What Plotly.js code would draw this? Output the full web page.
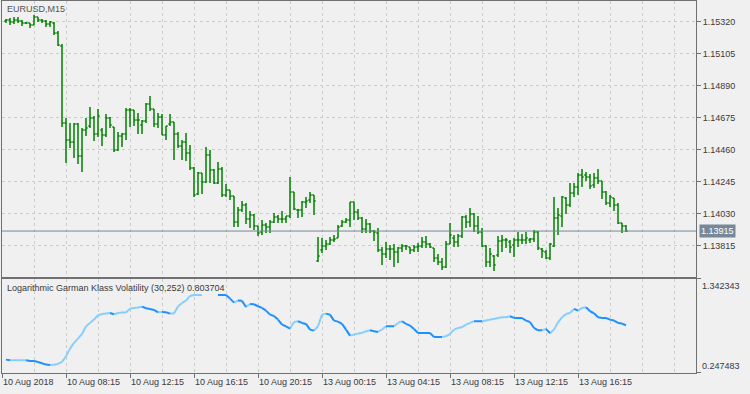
<!DOCTYPE html>
<html>
<head>
<meta charset="utf-8">
<script src="https://cdn.plot.ly/plotly-3.0.1.min.js"></script>
<style>
html,body{margin:0;padding:0;background:#f0f0f0;}
#chart{width:750px;height:394px;}
</style>
</head>
<body>
<div id="chart"></div>
<script>
// ---- data (EURUSD M15 bars) ----
var openP = [
1.15327,1.15333,1.15320,1.15333,1.15327,1.15313,1.15313,1.15300,1.15354,1.15333,
1.15327,1.15307,1.15313,1.15246,1.15159,1.14641,1.14527,1.14514,1.14635,1.14420,
1.14594,1.14621,1.14675,1.14567,1.14594,1.14561,1.14675,1.14614,1.14460,1.14554,
1.14567,1.14729,1.14729,1.14661,1.14628,1.14655,1.14769,1.14735,1.14635,1.14682,
1.14561,1.14635,1.14648,1.14567,1.14487,1.14514,1.14440,1.14339,1.14164,1.14305,
1.14245,1.14426,1.14325,1.14238,1.14332,1.14157,1.14191,1.14151,1.13976,1.14057,
1.14090,1.13996,1.14023,1.13949,1.13909,1.13956,1.13942,1.13976,1.14010,1.13996,
1.13996,1.14016,1.14178,1.14057,1.14057,1.14110,1.14124,1.14157,1.13714,1.13788,
1.13815,1.13828,1.13855,1.13868,1.13949,1.13976,1.13989,1.14110,1.14043,1.14003,
1.13929,1.13963,1.13916,1.13902,1.13788,1.13761,1.13795,1.13795,1.13774,1.13801,
1.13815,1.13808,1.13788,1.13808,1.13815,1.13842,1.13828,1.13801,1.13734,1.13707,
1.13674,1.13828,1.13868,1.13842,1.13882,1.14010,1.13976,1.14030,1.13949,1.13909,
1.13815,1.13707,1.13748,1.13754,1.13848,1.13855,1.13842,1.13821,1.13855,1.13855,
1.13855,1.13855,1.13862,1.13909,1.13795,1.13774,1.13734,1.13815,1.14003,1.14016,
1.14137,1.14090,1.14171,1.14211,1.14292,1.14292,1.14278,1.14225,1.14272,1.14252,
1.14178,1.14104,1.14137,1.14090,1.13969,1.13949];
var highP = [
1.15340,1.15347,1.15354,1.15354,1.15333,1.15320,1.15313,1.15367,1.15354,1.15340,
1.15333,1.15327,1.15320,1.15260,1.15172,1.14675,1.14641,1.14641,1.14641,1.14608,
1.14675,1.14749,1.14688,1.14735,1.14608,1.14702,1.14682,1.14614,1.14581,1.14574,
1.14742,1.14742,1.14729,1.14708,1.14661,1.14776,1.14823,1.14735,1.14708,1.14702,
1.14621,1.14702,1.14648,1.14581,1.14527,1.14574,1.14493,1.14346,1.14312,1.14305,
1.14480,1.14460,1.14332,1.14379,1.14346,1.14231,1.14191,1.14151,1.14077,1.14117,
1.14104,1.14050,1.14030,1.13949,1.13989,1.13969,1.13989,1.14036,1.14023,1.14050,
1.14016,1.14278,1.14178,1.14063,1.14117,1.14144,1.14178,1.14157,1.13875,1.13868,
1.13855,1.13875,1.13889,1.13956,1.13989,1.14003,1.14110,1.14110,1.14063,1.14010,
1.13996,1.13969,1.13922,1.13936,1.13808,1.13842,1.13821,1.13828,1.13808,1.13828,
1.13821,1.13808,1.13821,1.13835,1.13875,1.13882,1.13835,1.13801,1.13761,1.13734,
1.13848,1.13969,1.13889,1.13895,1.14016,1.14023,1.14070,1.14036,1.14016,1.13936,
1.13821,1.13801,1.13754,1.13882,1.13889,1.13868,1.13855,1.13868,1.13909,1.13895,
1.13909,1.13868,1.13922,1.13916,1.13801,1.13788,1.13835,1.14144,1.14070,1.14151,
1.14144,1.14238,1.14238,1.14305,1.14332,1.14312,1.14299,1.14305,1.14332,1.14252,
1.14184,1.14157,1.14137,1.14104,1.13969,1.13956];
var lowP = [
1.15313,1.15300,1.15307,1.15313,1.15293,1.15307,1.15280,1.15300,1.15320,1.15313,
1.15286,1.15286,1.15233,1.15159,1.14614,1.14372,1.14473,1.14406,1.14366,1.14312,
1.14554,1.14608,1.14520,1.14547,1.14487,1.14547,1.14608,1.14446,1.14453,1.14480,
1.14527,1.14614,1.14621,1.14567,1.14567,1.14641,1.14722,1.14614,1.14608,1.14561,
1.14527,1.14621,1.14393,1.14473,1.14393,1.14386,1.14325,1.14144,1.14157,1.14164,
1.14238,1.14238,1.14231,1.14231,1.14144,1.14144,1.14124,1.13942,1.13942,1.14043,
1.13963,1.13936,1.13922,1.13882,1.13889,1.13902,1.13902,1.13969,1.13969,1.13969,
1.13969,1.14003,1.14057,1.14003,1.14010,1.14070,1.14104,1.14023,1.13707,1.13768,
1.13788,1.13821,1.13842,1.13868,1.13942,1.13969,1.13942,1.13989,1.13989,1.13902,
1.13902,1.13902,1.13848,1.13774,1.13687,1.13734,1.13721,1.13674,1.13700,1.13774,
1.13788,1.13761,1.13774,1.13774,1.13801,1.13801,1.13801,1.13707,1.13687,1.13653,
1.13667,1.13828,1.13808,1.13808,1.13868,1.13936,1.13942,1.13909,1.13895,1.13808,
1.13674,1.13674,1.13647,1.13741,1.13774,1.13801,1.13768,1.13741,1.13808,1.13828,
1.13828,1.13835,1.13842,1.13788,1.13734,1.13727,1.13721,1.13808,1.13889,1.13942,
1.14030,1.14077,1.14144,1.14157,1.14211,1.14252,1.14198,1.14204,1.14231,1.14131,
1.14090,1.14077,1.14050,1.13963,1.13902,1.13909];
var closeP = [
1.15333,1.15320,1.15333,1.15327,1.15313,1.15313,1.15300,1.15354,1.15333,1.15327,
1.15307,1.15320,1.15246,1.15165,1.14641,1.14527,1.14514,1.14635,1.14420,1.14594,
1.14608,1.14675,1.14567,1.14688,1.14561,1.14675,1.14628,1.14460,1.14554,1.14567,
1.14729,1.14729,1.14661,1.14661,1.14655,1.14769,1.14735,1.14635,1.14682,1.14561,
1.14621,1.14648,1.14567,1.14487,1.14514,1.14440,1.14339,1.14157,1.14305,1.14245,
1.14426,1.14325,1.14238,1.14332,1.14157,1.14191,1.14151,1.13976,1.14057,1.14090,
1.13996,1.14023,1.13949,1.13902,1.13956,1.13942,1.13976,1.14010,1.13996,1.13996,
1.14016,1.14178,1.14063,1.14057,1.14110,1.14117,1.14157,1.14117,1.13748,1.13815,
1.13828,1.13855,1.13862,1.13942,1.13976,1.13989,1.14110,1.14043,1.14003,1.13929,
1.13963,1.13916,1.13909,1.13788,1.13761,1.13795,1.13795,1.13774,1.13801,1.13815,
1.13815,1.13788,1.13808,1.13815,1.13842,1.13828,1.13808,1.13734,1.13707,1.13674,
1.13828,1.13889,1.13842,1.13882,1.14010,1.13976,1.14030,1.13949,1.13909,1.13815,
1.13707,1.13761,1.13687,1.13848,1.13855,1.13855,1.13808,1.13855,1.13855,1.13855,
1.13868,1.13862,1.13909,1.13801,1.13781,1.13734,1.13828,1.14003,1.14023,1.14144,
1.14090,1.14171,1.14211,1.14292,1.14278,1.14278,1.14218,1.14272,1.14252,1.14178,
1.14104,1.14144,1.14090,1.13969,1.13949,1.13915];

// Logarithmic Garman Klass Volatility (30,252)
var volatility = [
0.4034,0.3950,0.3953,0.3957,0.3960,0.3962,0.3880,0.3878,0.3763,0.3607,
0.3452,0.3413,0.3430,0.3530,0.3763,0.4423,0.5316,0.5976,0.6481,0.7024,
0.7917,0.8306,0.8694,0.9199,0.9354,0.9393,0.9471,0.9315,0.9471,0.9509,
0.9512,0.9975,1.0053,1.0092,1.0208,1.0014,0.9937,0.9820,0.9548,0.9587,
0.9548,0.9393,0.9400,1.0208,1.0635,1.0907,1.1451,1.1567,1.1570,1.1572,
1.1572,1.1572,1.1572,1.1572,1.1565,1.1560,1.1140,1.0674,1.0907,1.0880,
1.0170,1.0519,1.0480,1.0247,1.0053,0.9742,0.9276,0.9121,0.8694,0.8112,
0.7917,0.7646,0.8422,0.8500,0.8306,0.8189,0.7529,0.7413,0.7917,0.9276,
0.9393,0.9276,0.8578,0.8461,0.8189,0.7529,0.6830,0.6947,0.7063,0.7141,
0.7335,0.7452,0.7335,0.7257,0.7529,0.7917,0.7915,0.7912,0.8306,0.8500,
0.8189,0.7995,0.7607,0.7141,0.7138,0.7135,0.7130,0.6675,0.6672,0.6670,
0.6753,0.7024,0.7529,0.7723,0.7801,0.8112,0.8306,0.8500,0.8498,0.8495,
0.8578,0.8694,0.8772,0.8888,0.8966,0.8970,0.9082,0.8888,0.8885,0.8880,
0.8578,0.8422,0.7723,0.7452,0.7450,0.7607,0.7102,0.7529,0.8383,0.8966,
0.9354,0.9471,0.9937,0.9742,1.0053,1.0131,0.9665,0.9432,0.8966,0.8888,
0.8880,0.8694,0.8578,0.8306,0.8228,0.803704];

var priceTicks = [1.15320,1.15105,1.14890,1.14675,1.14460,1.14245,1.14030,1.13815];
var lastPrice = 1.13915;
var volMax = 1.342343, volMin = 0.247483;
var timeTickBars = [-1,15,31,47,63,79,95,111,127,143];
var timeTickText = ["10 Aug 2018","10 Aug 08:15","10 Aug 12:15","10 Aug 16:15","10 Aug 20:15",
                    "13 Aug 00:15","13 Aug 04:15","13 Aug 08:15","13 Aug 12:15","13 Aug 16:15"];

// ---- build ----
var idx = openP.map(function(_, i){ return i; });

var upX = [], upY = [], dnX = [], dnY = [];
for (var i = 1; i < volatility.length; i++) {
  var a = volatility[i-1], b = volatility[i];
  if (b > a) { upX.push(i-1, i, null); upY.push(a, b, null); }
  else if (b < a) { dnX.push(i-1, i, null); dnY.push(a, b, null); }
}

var GREEN = '#008000', FRAME = '#707070', GRID = '#cccccc', TXT = '#3a3a3a';
var FONT = 'Liberation Sans, Arial, sans-serif';

var traces = [
  {type:'ohlc', x:idx, open:openP, high:highP, low:lowP, close:closeP,
   xaxis:'x', yaxis:'y', tickwidth:0.42, hoverinfo:'skip',
   increasing:{line:{color:GREEN, width:1.5}}, decreasing:{line:{color:GREEN, width:1.5}}},
  {type:'scatter', mode:'lines', x:upX, y:upY, xaxis:'x2', yaxis:'y2', connectgaps:false,
   line:{color:'#87cefa', width:2}, hoverinfo:'skip'},
  {type:'scatter', mode:'lines', x:dnX, y:dnY, xaxis:'x2', yaxis:'y2', connectgaps:false,
   line:{color:'#1e90ff', width:2}, hoverinfo:'skip'}
];

var gridCommon = {showgrid:true, gridcolor:GRID, griddash:'3px,3px', gridwidth:1,
                  showline:true, mirror:true, linecolor:FRAME, linewidth:1, zeroline:false, fixedrange:true};

var layout = {
  width:750, height:394,
  paper_bgcolor:'#f0f0f0', plot_bgcolor:'#f0f0f0',
  margin:{l:2, r:54, t:1, b:21},
  showlegend:false,
  font:{family:FONT, size:9, color:TXT},
  xaxis: Object.assign({}, gridCommon, {
    domain:[0,1], anchor:'y', range:[-1,172.5], type:'linear',
    tickvals:timeTickBars, showticklabels:false, ticks:'',
    minor:{tick0:7, dtick:8, showgrid:true, gridcolor:GRID, griddash:'3px,3px', ticks:''},
    rangeslider:{visible:false}
  }),
  yaxis: Object.assign({}, gridCommon, {
    domain:[0.258,1], anchor:'x', side:'right', range:[1.13606,1.15461],
    tickvals:priceTicks, tickformat:'.5f', ticks:'outside', ticklen:4, tickcolor:FRAME
  }),
  xaxis2: Object.assign({}, gridCommon, {
    domain:[0,1], anchor:'y2', range:[-1,172.5], type:'linear',
    tickvals:timeTickBars, ticktext:timeTickText, ticks:'outside', ticklen:4, tickcolor:FRAME,
    ticklabelposition:'outside right',
    minor:{tick0:7, dtick:8, showgrid:true, gridcolor:GRID, griddash:'3px,3px', ticks:''}
  }),
  yaxis2: Object.assign({}, gridCommon, {
    domain:[0,0.2527], anchor:'x2', side:'right', range:[volMin, volMax],
    tickvals:[volMin, volMax], ticktext:['',''], ticks:'outside', ticklen:4, tickcolor:FRAME,
    showgrid:false
  }),
  shapes:[
    {type:'line', xref:'paper', x0:0, x1:1, yref:'y', y0:lastPrice, y1:lastPrice,
     line:{color:'#778899', width:1}}
  ],
  annotations:[
    {xref:'paper', yref:'paper', x:0, y:1, xanchor:'left', yanchor:'top', xshift:3, yshift:-1,
     text:'EURUSD,M15', showarrow:false, font:{family:FONT, size:9, color:'#555555'}},
    {xref:'paper', yref:'paper', x:0, y:0.2527, xanchor:'left', yanchor:'top', xshift:3, yshift:-2,
     text:'Logarithmic Garman Klass Volatility (30,252) 0.803704', showarrow:false,
     font:{family:FONT, size:9, color:'#3a3a3a'}},
    {xref:'paper', yref:'y', x:1, y:lastPrice, xanchor:'left', yanchor:'middle', xshift:3,
     text:lastPrice.toFixed(5), showarrow:false, bgcolor:'#778899', borderpad:1,
     font:{family:FONT, size:9, color:'#ffffff'}},
    {xref:'paper', yref:'y2', x:1, y:volMax, xanchor:'left', yanchor:'top', xshift:4, yshift:0,
     text:volMax.toFixed(6), showarrow:false, font:{family:FONT, size:9, color:TXT}},
    {xref:'paper', yref:'y2', x:1, y:volMin, xanchor:'left', yanchor:'bottom', xshift:4, yshift:0,
     text:volMin.toFixed(6), showarrow:false, font:{family:FONT, size:9, color:TXT}}
  ]
};

Plotly.newPlot('chart', traces, layout, {displayModeBar:false, staticPlot:true});
</script>
</body>
</html>
